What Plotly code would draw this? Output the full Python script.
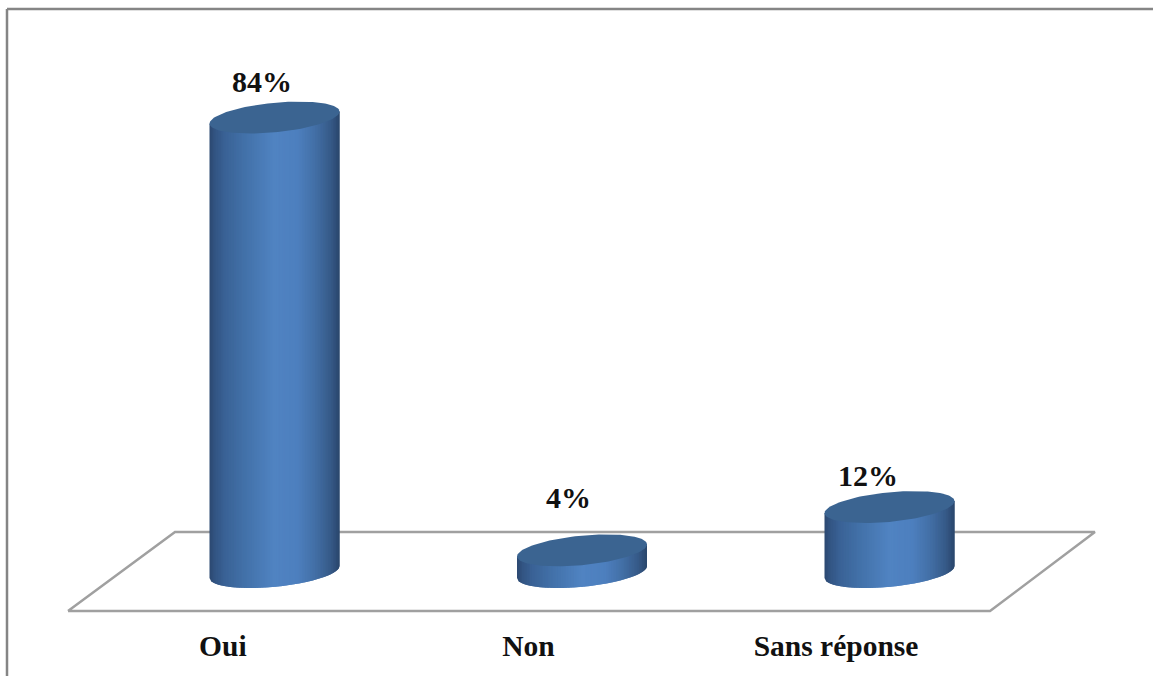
import numpy as np
import plotly.graph_objects as go

# Survey results, in percent
categories = ["Oui", "Non", "Sans réponse"]
values = [84, 4, 12]
value_labels = ["84%", "4%", "12%"]

# Canvas and scale: one category step and one percent, in pixels
WIDTH, HEIGHT = 1153, 676
MARGIN_BOTTOM = 51
STEP_PX = 307.5
PCT_PX = 5.41
ORIGIN_X_PX = 274.5
ORIGIN_Y_PX = 572

# Cylinder ellipse: half width, tilt and half depth
RX = 65 / STEP_PX
TILT = 6 / PCT_PX
RY = 14.8 / PCT_PX

# Floor corners as category and percent offsets
floor_x = [-0.6715, 2.327, 2.668, -0.3236, -0.6715]
floor_y = [-7.21, -7.21, 7.39, 7.39, -7.21]

# Horizontal shading across a cylinder (position, r, g, b)
shade_pos = [0.0, 0.04, 0.12, 0.30, 0.50, 0.68, 0.82, 0.93, 1.0]
shade_r = [44, 50, 58, 68, 80, 77, 66, 54, 42]
shade_g = [72, 84, 98, 116, 131, 127, 110, 90, 70]
shade_b = [112, 130, 150, 172, 194, 190, 164, 136, 108]
TOP_COLOR = "#3b6491"
STRIPS = 80

label_dx = [-12.5, -14, -22]
label_dy = [36, 53, 32]
tick_offset = [-0.168, -0.174, -0.174]

x_range = [-ORIGIN_X_PX / STEP_PX, (WIDTH - ORIGIN_X_PX) / STEP_PX]
plot_h = HEIGHT - MARGIN_BOTTOM
y_range = [(ORIGIN_Y_PX - plot_h) / PCT_PX, ORIGIN_Y_PX / PCT_PX]

fig = go.Figure()

# Floor outline
fig.add_trace(go.Scatter(x=floor_x, y=floor_y, mode="lines",
                         line=dict(color="#a0a0a0", width=2.5)))


def shade(u):
    t = (u + 1) / 2
    r = np.interp(t, shade_pos, shade_r)
    g = np.interp(t, shade_pos, shade_g)
    b = np.interp(t, shade_pos, shade_b)
    return f"rgb({r:.0f},{g:.0f},{b:.0f})"


def lower_edge(u, centre):
    return centre + TILT * u - RY * np.sqrt(np.clip(1 - u ** 2, 0, 1))


for i, v in enumerate(values):
    # Side wall, painted as overlapping vertical strips
    edges = np.linspace(-1, 1, STRIPS + 1)
    for j in range(STRIPS):
        right = min(j + 2, STRIPS)
        us = np.linspace(edges[j], edges[right], 5)
        xs = i + RX * us
        low = lower_edge(us, 0.0)
        high = v + TILT * us
        fig.add_trace(go.Scatter(
            x=np.concatenate([xs, xs[::-1]]),
            y=np.concatenate([low, high[::-1]]),
            mode="lines", fill="toself", line=dict(width=0),
            fillcolor=shade((edges[j] + edges[j + 1]) / 2)))
    # Top face
    t = np.linspace(0, 2 * np.pi, 121)
    fig.add_trace(go.Scatter(
        x=i + RX * np.cos(t),
        y=v + TILT * np.cos(t) + RY * np.sin(t),
        mode="lines", fill="toself", line=dict(width=0),
        fillcolor=TOP_COLOR))

for i, v in enumerate(values):
    fig.add_annotation(x=i, y=v, text=f"<b>{value_labels[i]}</b>", showarrow=False,
                       xshift=label_dx[i], yshift=label_dy[i],
                       font=dict(family="Liberation Serif", size=30, color="#111111"))

# Chart area border, open on the right and at the bottom
frame_x = 7 / WIDTH
frame_top = 1 - 9 / plot_h
frame_bottom = 1 - HEIGHT / plot_h
border = dict(color="#858585", width=2.5)
fig.add_shape(type="line", xref="paper", yref="paper", x0=frame_x, x1=frame_x,
              y0=frame_bottom, y1=frame_top, line=border)
fig.add_shape(type="line", xref="paper", yref="paper", x0=frame_x, x1=1,
              y0=frame_top, y1=frame_top, line=border)

fig.update_layout(
    width=WIDTH, height=HEIGHT, showlegend=False, hovermode=False,
    margin=dict(l=0, r=0, t=0, b=MARGIN_BOTTOM),
    paper_bgcolor="white", plot_bgcolor="white",
    xaxis=dict(range=x_range, showgrid=False, zeroline=False, showline=False,
               tickmode="array", tickvals=[k + tick_offset[k] for k in range(len(categories))],
               ticktext=[f"<b>{c}</b>" for c in categories], ticks="",
               tickfont=dict(family="Liberation Serif", size=29.5, color="#111111")),
    yaxis=dict(range=y_range, visible=False),
)

fig.write_html("out.html")
